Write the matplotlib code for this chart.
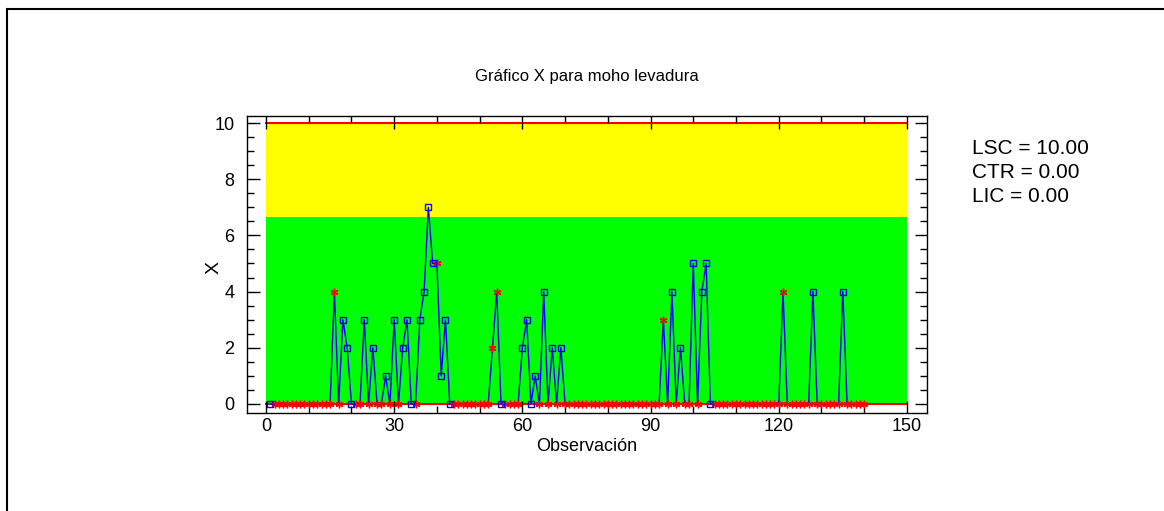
import numpy as np
import matplotlib.pyplot as plt
from matplotlib.ticker import MultipleLocator
from matplotlib.patches import Rectangle

plt.rcParams['font.family'] = ['Liberation Sans', 'DejaVu Sans']

# valores de moho/levadura por observación (1..140)
valores = [
    0, 0, 0, 0, 0, 0, 0, 0, 0, 0, 0, 0, 0, 0, 0, 4, 0, 3, 2, 0,
    0, 0, 3, 0, 2, 0, 0, 1, 0, 3, 0, 2, 3, 0, 0, 3, 4, 7, 5, 5,
    1, 3, 0, 0, 0, 0, 0, 0, 0, 0, 0, 0, 2, 4, 0, 0, 0, 0, 0, 2,
    3, 0, 1, 0, 4, 0, 2, 0, 2, 0, 0, 0, 0, 0, 0, 0, 0, 0, 0, 0,
    0, 0, 0, 0, 0, 0, 0, 0, 0, 0, 0, 0, 3, 0, 4, 0, 2, 0, 0, 5,
    0, 4, 5, 0, 0, 0, 0, 0, 0, 0, 0, 0, 0, 0, 0, 0, 0, 0, 0, 0,
    4, 0, 0, 0, 0, 0, 0, 4, 0, 0, 0, 0, 0, 0, 4, 0, 0, 0, 0, 0,
]
# observaciones marcadas con cuadro (el resto con asterisco)
obs_cuadro = [1, 18, 19, 20, 23, 25, 28, 30, 32, 33, 34, 36, 37, 38, 39,
              41, 42, 43, 55, 60, 61, 62, 63, 65, 67, 69, 95, 97, 100,
              102, 103, 104, 128, 135]

lsc = 10.0
ctr = 0.0
lic = 0.0
lim_aviso = 6.67
x_fin = 150

obs = np.arange(1, len(valores) + 1)
y = np.array(valores)
es_cuadro = np.isin(obs, obs_cuadro)

W, H = 1164, 511
fig = plt.figure(figsize=(W / 100, H / 100), dpi=100)
ax = fig.add_axes([247 / W, 1 - 412.7 / H, (927 - 247) / W, (412.7 - 115.7) / H])

# zonas de color
ax.add_patch(Rectangle((0, lic), x_fin, lim_aviso - lic, facecolor='#00ff00', edgecolor='none', zorder=0))
ax.add_patch(Rectangle((0, lim_aviso), x_fin, lsc - lim_aviso, facecolor='#ffff00', edgecolor='none', zorder=0))
ax.plot([0, x_fin], [ctr, ctr], color='red', lw=1.5, zorder=1)
ax.plot([0, x_fin], [lsc, lsc], color='red', lw=1.5, zorder=1)

ax.plot(obs, y, color='#0000ff', lw=1.0, zorder=2)
ax.plot(obs[~es_cuadro], y[~es_cuadro], ls='none', marker=(6, 2, 0), ms=5.5,
        color='red', mew=1.0, zorder=3)
ax.plot(obs[es_cuadro], y[es_cuadro], ls='none', marker='s', ms=5,
        mfc='none', mec='#0000ff', mew=1.0, zorder=3)

ax.set_xlim(-4.45, 154.7)
ax.set_ylim(-0.31, 10.26)
ax.xaxis.set_major_locator(MultipleLocator(30))
ax.xaxis.set_minor_locator(MultipleLocator(10))
ax.yaxis.set_major_locator(MultipleLocator(2))
ax.yaxis.set_minor_locator(MultipleLocator(0.5))
ax.tick_params(which='both', direction='in', top=True, right=True, labelsize=13, width=1)
ax.tick_params(which='major', length=9)
ax.tick_params(which='minor', length=5)
ax.tick_params(axis='x', pad=4)
ax.tick_params(axis='y', pad=9)
for s in ax.spines.values():
    s.set_linewidth(1)

ax.set_title('Gráfico X para moho levadura', fontsize=12, pad=25)
ax.set_xlabel('Observación', fontsize=13, labelpad=2)
ax.set_ylabel('X', fontsize=14)
ax.yaxis.set_label_coords((223 - 247) / 680, (412.7 - 268) / 297)

fig.text(972 / W, 1 - 148 / H, 'LSC = %.2f' % lsc, fontsize=15, va='center')
fig.text(972 / W, 1 - 172 / H, 'CTR = %.2f' % ctr, fontsize=15, va='center')
fig.text(972 / W, 1 - 196 / H, 'LIC = %.2f' % lic, fontsize=15, va='center')

# marco exterior
fig.patches.append(Rectangle((7 / W, -0.1), 1.2, 1 - 9 / H + 0.1, transform=fig.transFigure,
                             fill=False, edgecolor='black', lw=1.5))

fig.savefig('out.png', dpi=100)
